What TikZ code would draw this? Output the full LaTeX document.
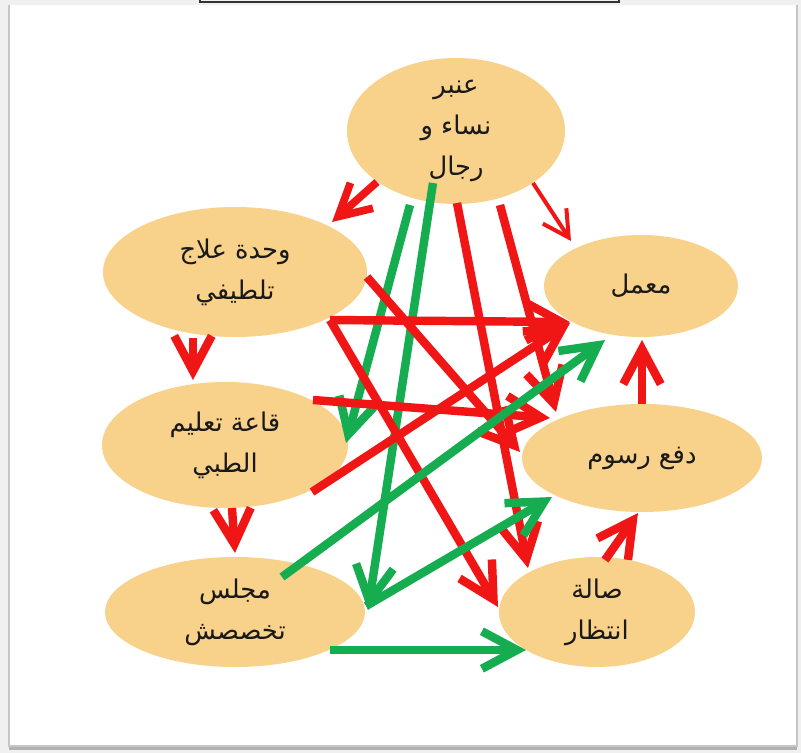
\documentclass[tikz,border=0pt]{standalone}
\usepackage{fontspec}
\usepackage{tikz}
\usetikzlibrary{shapes,arrows.meta,positioning,calc}
\usepackage{xcolor}
\TeXXeTstate=1
\newfontfamily\arabicfont[Script=Arabic]{DejaVu Sans}
\definecolor{peach}{RGB}{248,209,138}
\definecolor{flowred}{RGB}{240,22,22}
\definecolor{flowgreen}{RGB}{22,172,80}

\begin{document}
\begin{tikzpicture}[x=0.03cm, y=-0.03cm,
    place/.style={ellipse, fill=peach, inner sep=0pt, align=center, text=black!90,
                  font=\arabicfont\fontsize{22}{35}\selectfont},
    redflow/.style={draw=flowred, line width=7.2pt, -{Straight Barb[length=30pt,width=32pt]}},
    thinred/.style={draw=flowred, line width=3.4pt, -{Straight Barb[length=22pt,width=24pt]}},
    greenflow/.style={draw=flowgreen, line width=7.2pt, -{Straight Barb[length=30pt,width=32pt]}}]
\useasboundingbox (0,0) rectangle (801,753);
% frame of the sheet
\fill[gray!12] (0,0) rectangle (801,753);
\fill[white] (9,5) rectangle (797,746);
\draw[gray!45, line width=1.2pt] (9,5) -- (9,746) -- (797,746) -- (797,5);
\draw[gray!60, line width=2pt] (9,748.5) -- (797,748.5);
\draw[black!80, line width=1pt] (200,-2) -- (200,2) -- (619,2) -- (619,-2);

% places
\node[place, minimum width=6.54cm, minimum height=4.38cm] (anbar) at (456,131)
    {\beginR عنبر\endR\\\beginR نساء و\endR\\\beginR رجال\endR};
\node[place, minimum width=7.92cm, minimum height=3.9cm] (wahda) at (235,272)
    {\beginR وحدة علاج\endR\\\beginR تلطيفي\endR};
\node[place, minimum width=7.38cm, minimum height=3.78cm] (qaa) at (225,445)
    {\beginR قاعة تعليم\endR\\\beginR الطبي\endR};
\node[place, minimum width=7.8cm, minimum height=3.3cm] (majlis) at (235,612)
    {\beginR مجلس\endR\\\beginR تخصصش\endR};
\node[place, minimum width=5.82cm, minimum height=3.06cm] (lab) at (641,286)
    {\beginR معمل\endR};
\node[place, minimum width=7.2cm, minimum height=3.24cm] (fees) at (642,458)
    {\beginR دفع رسوم\endR};
\node[place, minimum width=5.88cm, minimum height=3.3cm] (wait) at (597,612)
    {\beginR صالة\endR\\\beginR انتظار\endR};

% green flows under
\draw[greenflow] ($(anbar)+(-46,74)$) -- ($(qaa)+(121,-2)$);
\draw[greenflow] ($(anbar)+(-23,52)$) -- ($(majlis)+(133,-2)$);

% red flows
\draw[redflow, line width=6.6pt, -{Straight Barb[length=27pt,width=29pt]}] ($(anbar)+(-79,51)$) -- ($(wahda)+(97,-50)$);
\draw[thinred] ($(anbar)+(77,52)$) -- ($(lab)+(-70,-45)$);
\draw[redflow] ($(wahda)+(-42,66)$) -- ($(qaa)+(-32,-65)$);
\draw[redflow] ($(qaa)+(7,63)$) -- ($(majlis)+(0,-59)$);
\draw[redflow] ($(wait)+(8,-52)$) -- ($(fees)+(-4,55)$);
\draw[redflow] ($(fees)+(0,-54)$) -- ($(lab)+(1,54)$);
\draw[redflow] ($(wahda)+(95,48)$) -- ($(lab)+(-71,36)$);
\draw[redflow] ($(wahda)+(95,48)$) -- ($(wait)+(-99,-5)$);
\draw[redflow] ($(wahda)+(132,5)$) -- ($(fees)+(-122,-6)$);
\draw[redflow] ($(qaa)+(88,-45)$) -- ($(fees)+(-92,-40)$);
\draw[redflow] ($(qaa)+(87,47)$) -- ($(lab)+(-71,37)$);
\draw[redflow] ($(anbar)+(1,72)$) -- ($(wait)+(-69,-44)$);
\draw[redflow] ($(anbar)+(44,74)$) -- ($(fees)+(-86,-46)$);

% green flows over
\draw[greenflow] ($(majlis)+(47,-35)$) -- ($(lab)+(-36,54)$);
\draw[greenflow] ($(majlis)+(131,-6)$) -- ($(fees)+(-90,39)$);
\draw[greenflow] ($(majlis)+(95,38)$) -- ($(wait)+(-71,38)$);
\end{tikzpicture}
\end{document}
